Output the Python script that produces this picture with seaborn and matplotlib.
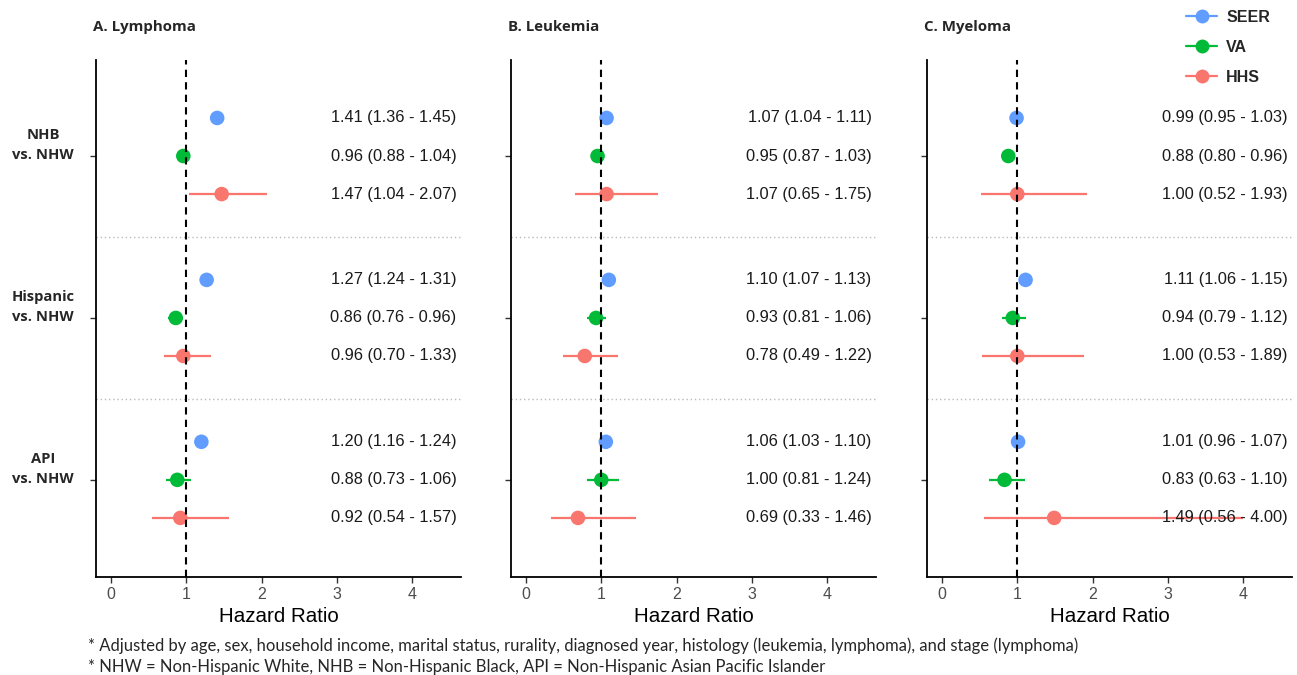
import seaborn as sns
import matplotlib.pyplot as plt
from matplotlib.lines import Line2D
import pandas as pd

# source / group / panel labels
sources = ["SEER", "VA", "HHS"]
groups = ["NHB\nvs. NHW", "Hispanic\nvs. NHW", "API\nvs. NHW"]
cancers = ["A. Lymphoma", "B. Leukemia", "C. Myeloma"]
palette = {"SEER": "#619CFF", "VA": "#00BA38", "HHS": "#F8766D"}

# hazard ratios, order: NHB (SEER, VA, HHS), Hispanic (...), API (...)
lymphoma_hr = [1.41, 0.96, 1.47, 1.27, 0.86, 0.96, 1.20, 0.88, 0.92]
lymphoma_lo = [1.36, 0.88, 1.04, 1.24, 0.76, 0.70, 1.16, 0.73, 0.54]
lymphoma_hi = [1.45, 1.04, 2.07, 1.31, 0.96, 1.33, 1.24, 1.06, 1.57]

leukemia_hr = [1.07, 0.95, 1.07, 1.10, 0.93, 0.78, 1.06, 1.00, 0.69]
leukemia_lo = [1.04, 0.87, 0.65, 1.07, 0.81, 0.49, 1.03, 0.81, 0.33]
leukemia_hi = [1.11, 1.03, 1.75, 1.13, 1.06, 1.22, 1.10, 1.24, 1.46]

myeloma_hr = [0.99, 0.88, 1.00, 1.11, 0.94, 1.00, 1.01, 0.83, 1.49]
myeloma_lo = [0.95, 0.80, 0.52, 1.06, 0.79, 0.53, 0.96, 0.63, 0.56]
myeloma_hi = [1.03, 0.96, 1.93, 1.15, 1.12, 1.89, 1.07, 1.10, 4.00]

series = {
    "A. Lymphoma": (lymphoma_hr, lymphoma_lo, lymphoma_hi),
    "B. Leukemia": (leukemia_hr, leukemia_lo, leukemia_hi),
    "C. Myeloma": (myeloma_hr, myeloma_lo, myeloma_hi),
}

rows = []
for cancer in cancers:
    hr, lo, hi = series[cancer]
    for i in range(9):
        g, s = divmod(i, 3)
        rows.append({"cancer": cancer, "group": g, "source": sources[s],
                     "ypos": g + (s - 1) * 0.235,
                     "hr": hr[i], "lo": lo[i], "hi": hi[i]})
df = pd.DataFrame(rows)

sns.set_style("ticks")
plt.rcParams["font.family"] = ["Liberation Sans", "DejaVu Sans"]

fig = plt.figure(figsize=(12.97, 6.75), dpi=100)
lefts = [96, 511, 927]
W, H = 1297, 675

for k, cancer in enumerate(cancers):
    ax = fig.add_axes([lefts[k] / W, 1 - 577 / H, 365 / W, (577 - 60) / H])
    sub = df[df.cancer == cancer]

    ax.hlines(sub.ypos, sub.lo, sub.hi, colors=sub.source.map(palette), lw=1.6, zorder=2)
    sns.scatterplot(data=sub, x="hr", y="ypos", hue="source", palette=palette,
                    s=110, linewidth=0, legend=False, ax=ax, zorder=3)
    ax.axvline(1, color="black", ls=(0, (3.5, 2.5)), lw=1.5, zorder=4)
    for sep in [0.5, 1.5]:
        ax.axhline(sep, color="#BBBBBB", ls=(0, (1, 2)), lw=1.0, zorder=1)

    for _, r in sub.iterrows():
        ax.text(4.59, r.ypos, f"{r.hr:.2f} ({r.lo:.2f} - {r.hi:.2f})",
                ha="right", va="center", fontsize=11.8, color="#1a1a1a")

    ax.set_xlim(-0.2, 4.65)
    ax.set_ylim(2.6, -0.593)
    ax.set_xticks([0, 1, 2, 3, 4])
    ax.set_yticks([0, 1, 2])
    ax.set_yticklabels([])
    ax.set_xlabel("Hazard Ratio", fontsize=14.8, color="black", labelpad=3)
    ax.set_ylabel("")
    ax.tick_params(axis="x", labelsize=11.5, labelcolor="#4D4D4D", color="#333333",
                   length=4, width=1)
    ax.tick_params(axis="y", color="#333333", length=4, width=1)
    sns.despine(ax=ax)
    for sp in ["left", "bottom"]:
        ax.spines[sp].set_color("black")
        ax.spines[sp].set_linewidth(1.3)

    fig.text((lefts[k] - 3) / W, 1 - 27 / H, cancer, fontsize=10.8, fontweight="bold",
             family=["Open Sans", "DejaVu Sans"], va="center", ha="left")

    if k == 0:
        for g, lab in enumerate(groups):
            ax.text(-0.145, g - 0.068, lab, transform=ax.get_yaxis_transform(),
                    ha="center", va="center", fontsize=10.6, fontweight="bold",
                    family=["Open Sans", "DejaVu Sans"], linespacing=1.5)

handles = [Line2D([0], [0], color=palette[s], marker="o", markersize=10, lw=1.6,
                  markeredgewidth=0) for s in sources]
fig.legend(handles, sources, loc="upper left", bbox_to_anchor=(1172 / W, 1.007),
           frameon=False, handlelength=1.9, labelspacing=0.95, handletextpad=0.6,
           prop={"weight": "bold", "size": 11.5})

notes = ["* Adjusted by age, sex, household income, marital status, rurality, diagnosed year, "
         "histology (leukemia, lymphoma), and stage (lymphoma)",
         "* NHW = Non-Hispanic White, NHB = Non-Hispanic Black, API = Non-Hispanic Asian Pacific Islander"]
fig.text(88 / W, 1 - 646 / H, notes[0], fontsize=12, family=["Lato", "DejaVu Sans"], va="center")
fig.text(88 / W, 1 - 667 / H, notes[1], fontsize=12, family=["Lato", "DejaVu Sans"], va="center")

fig.savefig("out.png", dpi=100)
